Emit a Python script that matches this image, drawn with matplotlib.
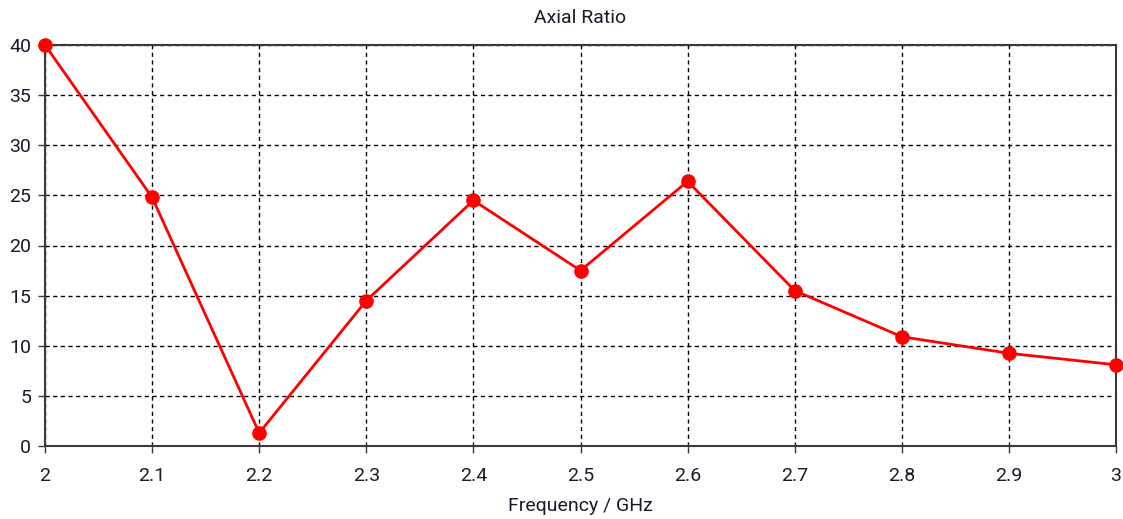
import matplotlib
matplotlib.use("Agg")
import matplotlib.pyplot as plt

# Axial ratio versus frequency
frequency_ghz = [2.0, 2.1, 2.2, 2.3, 2.4, 2.5, 2.6, 2.7, 2.8, 2.9, 3.0]
axial_ratio = [40.0, 24.8, 1.3, 14.5, 24.5, 17.5, 26.4, 15.5, 10.9, 9.25, 8.1]

x_ticks = [2.0, 2.1, 2.2, 2.3, 2.4, 2.5, 2.6, 2.7, 2.8, 2.9, 3.0]
x_tick_labels = ["2", "2.1", "2.2", "2.3", "2.4", "2.5", "2.6", "2.7", "2.8", "2.9", "3"]
y_ticks = [0, 5, 10, 15, 20, 25, 30, 35, 40]

plt.rcParams["font.family"] = ["Roboto", "DejaVu Sans"]

fig = plt.figure(figsize=(11.23, 5.19), dpi=100)
ax = fig.add_axes([45 / 1123, 1 - 446 / 519, (1116 - 45) / 1123, (446 - 45) / 519])

ax.plot(frequency_ghz, axial_ratio, color="#ff0000", linewidth=2,
        marker="o", markersize=9.5, clip_on=False, zorder=3)

ax.set_xlim(2.0, 3.0)
ax.set_ylim(0, 40)
ax.set_xticks(x_ticks)
ax.set_xticklabels(x_tick_labels)
ax.set_yticks(y_ticks)

ax.grid(True, color="black", linestyle=(0, (3, 2.5)), linewidth=1)
ax.set_axisbelow(True)

for side in ["left", "bottom", "top", "right"]:
    ax.spines[side].set_color("#3a3a3a")
    ax.spines[side].set_linewidth(1.5)

ax.tick_params(axis="both", direction="out", length=5, width=1,
               color="#3a3a3a", labelsize=14, labelcolor="#1a1a2a")
ax.tick_params(axis="x", pad=10)
ax.tick_params(axis="y", pad=5)

ax.set_title("Axial Ratio", fontsize=14, color="#1a1a2a", pad=16)
ax.set_xlabel("Frequency / GHz", fontsize=14, color="#1a1a2a", labelpad=9)

fig.savefig("out.png", dpi=100)
